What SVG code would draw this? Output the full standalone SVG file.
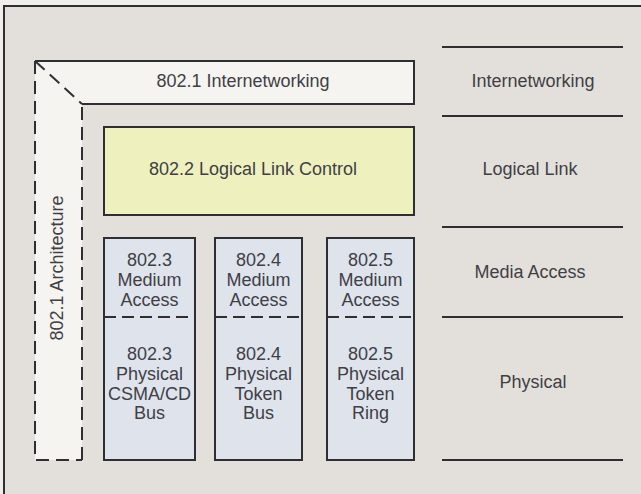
<svg xmlns="http://www.w3.org/2000/svg" width="641" height="494" viewBox="0 0 641 494">
<style>
  text { font-family: "Liberation Sans", Arial, sans-serif; font-size: 18px; fill: #3f3f46; text-anchor: middle; }
  .solid { fill: none; stroke: #2f2f33; stroke-width: 2; }
  .dash { fill: none; stroke: #2f2f33; stroke-width: 2; stroke-dasharray: 13 7; }
  .div { fill: none; stroke: #2f2f33; stroke-width: 2; stroke-dasharray: 12 6; }
  .col { fill: #dee3ec; stroke: #2f2f33; stroke-width: 2; }
  .rule { stroke: #2f2f33; stroke-width: 2; }
</style>
<rect x="0" y="0" width="641" height="494" fill="#efeeea"/>
<rect x="4" y="6" width="637" height="488" fill="#e3e0db"/>
<path class="solid" d="M4 494 V6 H641" stroke-width="2.5"/>

<g id="internetworking-architecture">
  <polygon points="35,61 414,61 414,104 82,104 82,460 35,460" fill="#f5f4f0"/>
  <path class="solid" d="M35 61 H414 V104 H82"/>
  <path class="dash" d="M35 61 L82 104"/>
  <path class="dash" d="M35 61 V460 H82"/>
  <path class="dash" d="M82 460 V104"/>
  <text x="243" y="87">802.1 Internetworking</text>
  <text transform="translate(63 268) rotate(-90)">802.1 Architecture</text>
</g>

<g id="llc">
  <rect x="104" y="127" width="310" height="88" fill="#eef1be" stroke="#2f2f33" stroke-width="2"/>
  <text x="253" y="175">802.2 Logical Link Control</text>
</g>

<g id="col-8023">
  <rect class="col" x="104" y="238" width="91" height="222"/>
  <line class="div" x1="104" y1="317" x2="195" y2="317"/>
  <text x="149.5" y="266">802.3</text>
  <text x="149.5" y="286">Medium</text>
  <text x="149.5" y="306">Access</text>
  <text x="149.5" y="360">802.3</text>
  <text x="149.5" y="380">Physical</text>
  <text x="149.5" y="400">CSMA/CD</text>
  <text x="149.5" y="419">Bus</text>
</g>

<g id="col-8024">
  <rect class="col" x="215" y="238" width="87" height="222"/>
  <line class="div" x1="215" y1="317" x2="302" y2="317"/>
  <text x="258.5" y="266">802.4</text>
  <text x="258.5" y="286">Medium</text>
  <text x="258.5" y="306">Access</text>
  <text x="258.5" y="360">802.4</text>
  <text x="258.5" y="380">Physical</text>
  <text x="258.5" y="400">Token</text>
  <text x="258.5" y="419">Bus</text>
</g>

<g id="col-8025">
  <rect class="col" x="327" y="238" width="87" height="222"/>
  <line class="div" x1="327" y1="317" x2="414" y2="317"/>
  <text x="370.5" y="266">802.5</text>
  <text x="370.5" y="286">Medium</text>
  <text x="370.5" y="306">Access</text>
  <text x="370.5" y="360">802.5</text>
  <text x="370.5" y="380">Physical</text>
  <text x="370.5" y="400">Token</text>
  <text x="370.5" y="419">Ring</text>
</g>

<g id="layers">
  <line class="rule" x1="442" y1="47" x2="623" y2="47"/>
  <line class="rule" x1="442" y1="116" x2="623" y2="116"/>
  <line class="rule" x1="442" y1="227" x2="623" y2="227"/>
  <line class="rule" x1="442" y1="317" x2="623" y2="317"/>
  <line class="rule" x1="442" y1="460" x2="623" y2="460"/>
  <text x="533" y="87">Internetworking</text>
  <text x="530" y="175">Logical Link</text>
  <text x="530" y="278">Media Access</text>
  <text x="533" y="388">Physical</text>
</g>
</svg>
